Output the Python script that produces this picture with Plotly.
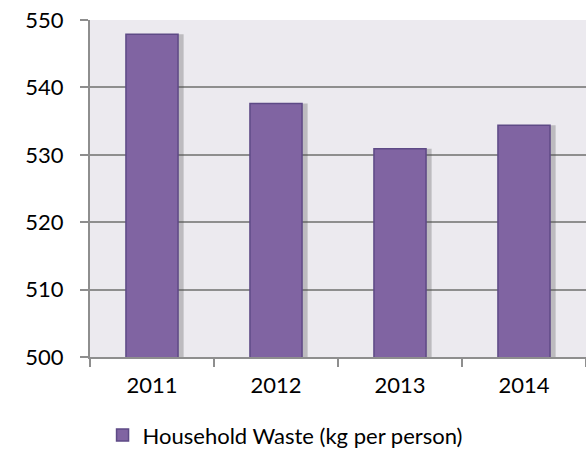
import plotly.graph_objects as go

years = ["2011", "2012", "2013", "2014"]
waste = [547.9, 537.6, 530.9, 534.4]

fig = go.Figure()

# soft shadow to the right of each bar
fig.add_trace(go.Bar(
    x=years, y=waste, width=0.42, offset=-0.165,
    marker=dict(color="rgba(80,80,80,0.30)", line=dict(width=0)),
    showlegend=False, hoverinfo="skip"
))
fig.add_trace(go.Bar(
    x=years, y=waste, width=0.42, offset=-0.21,
    name="Household Waste (kg per person)",
    marker=dict(color="#8064A2", line=dict(color="#5E4A86", width=1.5))
))

fig.update_layout(
    width=586, height=462,
    barmode="overlay",
    paper_bgcolor="white",
    plot_bgcolor="#ECEAEF",
    margin=dict(l=90, r=0, t=20, b=105, autoexpand=False),
    font=dict(family="Lato, sans-serif", size=22, color="#000000"),
    legend=dict(
        orientation="h", xref="container", yref="container",
        x=0.175, xanchor="left", y=0.058, yanchor="middle",
        font=dict(size=22), itemwidth=30
    ),
)
fig.update_xaxes(
    type="category", tickson="boundaries",
    ticks="outside", ticklen=8, tickcolor="#8E8E8E", tickwidth=1.5,
    showline=True, linecolor="#8E8E8E", linewidth=2,
    showgrid=False, ticklabelstandoff=8, automargin=False
)
fig.update_yaxes(
    range=[500, 550], dtick=10,
    ticks="outside", ticklen=8, tickcolor="#8E8E8E", tickwidth=1.5,
    showline=True, linecolor="#8E8E8E", linewidth=2,
    showgrid=True, gridcolor="#8E8E8E", gridwidth=2,
    ticklabelstandoff=12, automargin=False
)

# drop the page's default body margin so the figure sits at the window corner
fig.write_html("out.html", config={"displayModeBar": False},
               post_script="document.body.style.margin='0';")
